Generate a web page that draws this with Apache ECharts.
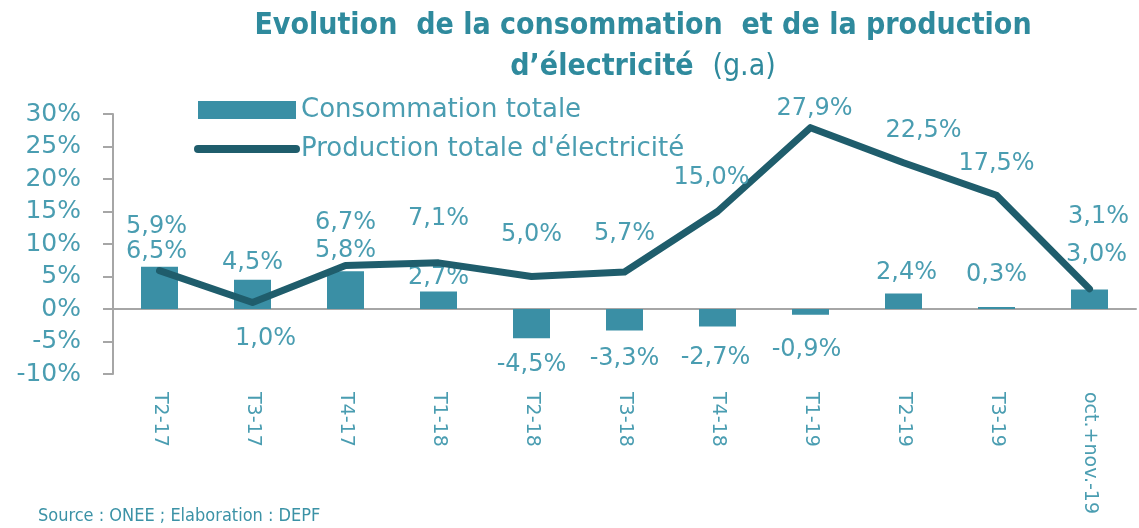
<!DOCTYPE html>
<html><head><meta charset="utf-8">
<script src="https://cdn.jsdelivr.net/npm/echarts@6/dist/echarts.min.js"></script>
<style>html,body{margin:0;padding:0;background:#fff}#c{width:1139px;height:528px}</style>
</head><body><div id="c"></div>
<script>
const categories = ['T2-17','T3-17','T4-17','T1-18','T2-18','T3-18','T4-18','T1-19','T2-19','T3-19','oct.+nov.-19'];
const consommation = [6.5, 4.5, 5.8, 2.7, -4.5, -3.3, -2.7, -0.9, 2.4, 0.3, 3.0];
const production = [5.9, 1.0, 6.7, 7.1, 5.0, 5.7, 15.0, 27.9, 22.5, 17.5, 3.1];
const yTicks = {min: -10, max: 30, interval: 5};

// label placement tweaks (styling only)
const lineLabelOffsets = [[-3,-3],[13,0],[0,-2],[0,-3],[0,-1],[0,3],[-6,7],[4,22],[20,9],[0,10],[9,-31]];
const lineLabelBelow = [false,true,false,false,false,false,false,false,false,false,false];
const barLabelOffsets = [[-3,2],[0,0],[0,-4],[0,3],[0,-2],[0,-1],[-2,2],[-4,6],[3,-4],[0,-15],[7,-18]];

const TEAL_TXT = '#4a9db1';
const fmt = v => v.toFixed(1).replace('.', ',') + '%';
const lblFont = {fontFamily: 'DejaVu Sans', fontSize: 24, color: TEAL_TXT};
const narrow = "'Liberation Sans Narrow', 'DejaVu Sans Condensed', 'Liberation Sans', sans-serif";

const chart = echarts.init(document.getElementById('c'), null, {renderer: 'canvas'});
chart.setOption({
  animation: false,
  title: {
    text: 'Evolution  de la consommation  et de la production\nd\u2019électricité  {n|(g.a)}',
    left: 638, top: 1, textAlign: 'center',
    textStyle: {fontFamily: narrow, fontWeight: 'bold', fontSize: 30, color: '#2f8a9d', lineHeight: 41,
      rich: {n: {fontFamily: narrow, fontWeight: 'normal', fontSize: 30, color: '#2f8a9d', lineHeight: 41}}}
  },
  graphic: [{type: 'text', left: 38, top: 507, style: {text: 'Source : ONEE ; Elaboration : DEPF', fontFamily: narrow, fontSize: 18, fill: '#3b92a6'}}],
  legend: {
    orient: 'vertical', left: 189, top: 92, itemWidth: 98, itemHeight: 18, itemGap: 13,
    textStyle: {fontFamily: 'DejaVu Sans', fontSize: 26, color: TEAL_TXT},
    data: [{name: 'Consommation totale', icon: 'rect'},
           {name: "Production totale d'électricité", itemStyle: {color: 'rgba(0,0,0,0)', borderWidth: 0},
            lineStyle: {color: '#1f5d6c', width: 8, cap: 'round'}}]
  },
  grid: {left: 113, right: 3, top: 114, bottom: 154},
  xAxis: [{
    type: 'category', data: categories, position: 'bottom',
    axisLine: {show: false, onZero: false}, axisTick: {show: false},
    axisLabel: {rotate: -90, margin: 18, fontFamily: 'DejaVu Sans', fontSize: 19, color: TEAL_TXT, interval: 0}
  }, {
    type: 'category', data: categories, position: 'bottom',
    axisLine: {show: true, onZero: true, lineStyle: {color: '#a6a6a6', width: 2}}, axisTick: {show: false}, axisLabel: {show: false}
  }],
  yAxis: {
    type: 'value', min: yTicks.min, max: yTicks.max, interval: yTicks.interval,
    axisLine: {show: true, lineStyle: {color: '#a6a6a6', width: 2}},
    axisTick: {show: true, length: 10, lineStyle: {color: '#a6a6a6', width: 2}},
    splitLine: {show: false},
    axisLabel: {formatter: '{value}%', margin: 32, fontFamily: 'DejaVu Sans', fontSize: 25, color: TEAL_TXT}
  },
  series: [{
    name: 'Consommation totale', type: 'bar', barWidth: 37,
    itemStyle: {color: '#3a8fa5'},
    data: consommation.map((v, i) => ({
      value: v,
      label: {show: true, position: v < 0 ? 'bottom' : 'top', distance: v < 0 ? 17 : 5, offset: barLabelOffsets[i], formatter: p => fmt(p.value), ...lblFont}
    })),
    z: 2
  }, {
    name: "Production totale d'électricité", type: 'line', symbol: 'circle', symbolSize: 2, showSymbol: true,
    lineStyle: {color: '#1f5d6c', width: 7, cap: 'round', join: 'round'},
    itemStyle: {color: '#1f5d6c'},
    data: production.map((v, i) => ({
      value: v,
      label: {show: true, position: lineLabelBelow[i] ? 'bottom' : 'top', distance: lineLabelBelow[i] ? 23 : 28, offset: lineLabelOffsets[i], formatter: p => fmt(p.value), ...lblFont}
    })),
    z: 3
  }]
});
</script></body></html>
